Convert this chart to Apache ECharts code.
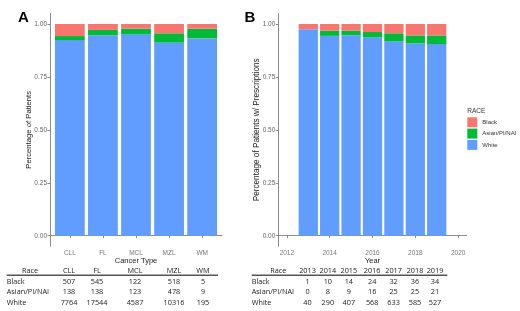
<!DOCTYPE html>
<html><head><meta charset="utf-8">
<script src="https://cdn.jsdelivr.net/npm/echarts@6/dist/echarts.min.js"></script>
<style>html,body{margin:0;padding:0;background:#fff}#c{width:520px;height:311px}</style>
</head><body><div id="c"></div>
<script>
// ---- data ----
const races = ['Black', 'Asian/PI/NAI', 'White'];
const cancerTypes = ['CLL', 'FL', 'MCL', 'MZL', 'WM'];
// table counts (panel A)
const cancerBlack = [507, 545, 122, 518, 5];
const cancerAsian = [138, 138, 123, 478, 9];
const cancerWhite = [7764, 17544, 4587, 10316, 195];
// bar shares
const cancerShareBlack = [0.057, 0.028, 0.022, 0.044, 0.022];
const cancerShareAsian = [0.019, 0.025, 0.027, 0.044, 0.046];
const cancerShareWhite = [0.924, 0.947, 0.951, 0.912, 0.932];
const years = [2013, 2014, 2015, 2016, 2017, 2018, 2019];
// table counts (panel B)
const yearBlack = [1, 10, 14, 24, 32, 36, 34];
const yearAsian = [0, 8, 9, 16, 25, 25, 21];
const yearWhite = [40, 290, 407, 568, 633, 585, 527];
// bar shares
const yearShareBlack = [0.025, 0.031, 0.031, 0.038, 0.044, 0.054, 0.054];
const yearShareAsian = [0.000, 0.025, 0.022, 0.025, 0.038, 0.038, 0.041];
const yearShareWhite = [0.975, 0.944, 0.947, 0.937, 0.918, 0.908, 0.905];
const yTicks = [0, 0.25, 0.5, 0.75, 1];
const yearTicks = [2012, 2014, 2016, 2018, 2020];

// ---- styling ----
const colors = { 'Black': '#F8766D', 'Asian/PI/NAI': '#00BA38', 'White': '#619CFF' };
const axisFont = '"Liberation Sans", Arial, sans-serif';
const tableFont = '"Open Sans", "Noto Sans", sans-serif';
const axisColor = '#8c8c8c';

const shA = { 'Black': cancerShareBlack, 'Asian/PI/NAI': cancerShareAsian, 'White': cancerShareWhite };
const shB = { 'Black': yearShareBlack, 'Asian/PI/NAI': yearShareAsian, 'White': yearShareWhite };

function yAxis(gridIndex, name, gap, size) {
  return {
    type: 'value', gridIndex, min: -0.05, max: 1.05,
    axisLine: { show: true, lineStyle: { color: axisColor, width: 1 } },
    axisTick: { show: true, length: 2.5, customValues: yTicks, lineStyle: { color: axisColor } },
    axisLabel: { customValues: yTicks, formatter: v => v.toFixed(2), fontSize: 6.5, color: '#666', margin: 3, fontFamily: axisFont },
    splitLine: { show: false },
    name, nameLocation: 'middle', nameGap: gap, nameMoveOverlap: false,
    nameTextStyle: { fontSize: size, color: '#222', fontFamily: axisFont }
  };
}
function xAxis(gridIndex, min, max, ticks, fmt, name) {
  return {
    type: 'value', gridIndex, min, max,
    axisLine: { show: true, lineStyle: { color: axisColor, width: 1 } },
    axisTick: { show: true, length: 2.5, customValues: ticks, lineStyle: { color: axisColor } },
    axisLabel: { customValues: ticks, formatter: fmt, fontSize: 6.5, color: '#777', margin: 3, fontFamily: axisFont },
    splitLine: { show: false },
    name, nameLocation: 'middle', nameGap: 10.5, nameMoveOverlap: false,
    nameTextStyle: { fontSize: 7.5, color: '#222', fontFamily: axisFont }
  };
}

// data rows are [share, position]; encode maps position to x so the share is stacked
const series = [];
['White', 'Asian/PI/NAI', 'Black'].forEach(r => {
  series.push({
    type: 'bar', name: r, xAxisIndex: 0, yAxisIndex: 0, stack: 'A', barWidth: '90%',
    encode: { x: 1, y: 0 },
    itemStyle: { color: colors[r] },
    data: cancerTypes.map((c, i) => [shA[r][i], i + 1])
  });
  series.push({
    type: 'bar', name: r, xAxisIndex: 1, yAxisIndex: 1, stack: 'B', barWidth: '90%',
    encode: { x: 1, y: 0 },
    itemStyle: { color: colors[r] },
    data: years.map((y, i) => [shB[r][i], y])
  });
});

// ---- tables ----
const graphics = [];
function txt(text, x, y, align, font, fill) {
  graphics.push({ type: 'text', x: 0, y: 0, silent: true, style: {
    text, x, y, font, fill: fill || '#222',
    align, textAlign: align, verticalAlign: 'middle', textVerticalAlign: 'middle'
  } });
}
function table(headers, colX, raceX, leftX, lineX2, rows) {
  const f = '7.3px ' + tableFont;
  const rowY = [281.6, 292.2, 302.7];
  txt('Race', raceX, 271.2, 'center', f);
  headers.forEach((h, i) => txt(String(h), colX[i], 271.2, 'center', f));
  graphics.push({ type: 'line', silent: true, shape: { x1: leftX, y1: 275.3, x2: lineX2, y2: 275.3 },
    style: { stroke: '#555', lineWidth: 1.6 } });
  rows.forEach((row, j) => {
    txt(races[j], leftX, rowY[j], 'left', f);
    row.forEach((v, i) => txt(String(v), colX[i], rowY[j], 'center', f));
  });
}
table(cancerTypes, [69, 97, 135, 174, 203], 30, 6.7, 218, [cancerBlack, cancerAsian, cancerWhite]);
table(years, [307.5, 327.8, 348.8, 372.2, 393.6, 415, 435], 278.3, 251.7, 447.3, [yearBlack, yearAsian, yearWhite]);

graphics.push({ type: 'text', silent: true, style: { text: 'A', x: 18, y: 10.5, font: 'bold 15px ' + axisFont, fill: '#000' } });
graphics.push({ type: 'text', silent: true, style: { text: 'B', x: 244.5, y: 10.5, font: 'bold 15px ' + axisFont, fill: '#000' } });
graphics.push({ type: 'text', silent: true, style: { text: 'RACE', x: 467.3, y: 111, font: '6.5px ' + axisFont, fill: '#333', verticalAlign: 'middle', textVerticalAlign: 'middle' } });

const chart = echarts.init(document.getElementById('c'), null, { renderer: 'canvas' });
chart.setOption({
  animation: false,
  backgroundColor: '#fff',
  grid: [
    { left: 50, top: 13.4, width: 172, height: 232.9 },
    { left: 278.3, top: 13.4, width: 188.4, height: 232.9 }
  ],
  xAxis: [
    xAxis(0, 0.4, 5.6, [1, 2, 3, 4, 5], v => cancerTypes[Math.round(v) - 1] || '', 'Cancer Type'),
    xAxis(1, 2011.6, 2020.4, yearTicks, v => String(v), 'Year')
  ],
  yAxis: [
    yAxis(0, 'Percentage of Patients', 17.5, 7.7),
    yAxis(1, 'Percentage of Patients w/ Prescriptions', 17.5, 8.2)
  ],
  legend: {
    data: races, orient: 'vertical', left: 467.3, top: 117.3, padding: 0,
    itemWidth: 10, itemHeight: 10, itemGap: 1.3, icon: 'rect', selectedMode: false,
    textStyle: { fontSize: 6, color: '#333', fontFamily: axisFont }
  },
  series,
  graphic: graphics
});
</script></body></html>
